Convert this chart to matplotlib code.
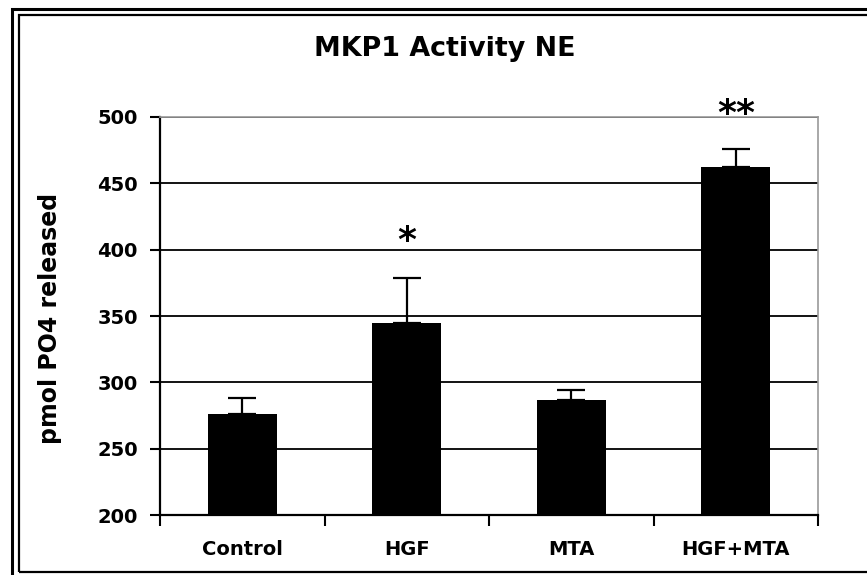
import matplotlib.pyplot as plt
from matplotlib.patches import Rectangle

groups = ["Control", "HGF", "MTA", "HGF+MTA"]
means = [276, 345, 287, 462]
errors = [12, 34, 7, 14]
stars = ["", "*", "", "**"]
star_y = [None, 399, None, 495]

plt.rcParams["font.family"] = "DejaVu Sans"
plt.rcParams["font.weight"] = "bold"

fig = plt.figure(figsize=(8.67, 5.75), dpi=100)
W, H = 867, 575
ax = fig.add_axes([160 / W, 1 - 515 / H, (818 - 160) / W, (515 - 117) / H])

x = list(range(len(groups)))
ax.bar(x, means, width=0.42, color="black", zorder=3)
ax.errorbar(x, means, yerr=[[0] * len(x), errors], fmt="none", ecolor="black",
            elinewidth=1.6, capsize=10, capthick=1.6, zorder=4)

# significance marks
for i, s in enumerate(stars):
    if s:
        ax.text(i, star_y[i], s, ha="center", va="baseline", fontsize=26,
                fontweight="bold", zorder=5)

ax.set_xlim(-0.5, 3.5)
ax.set_ylim(200, 500)
ax.set_yticks([200, 250, 300, 350, 400, 450, 500])
ax.yaxis.grid(True, color="black", linewidth=1.3, zorder=0)
ax.set_axisbelow(True)

ax.set_xticks(x)
ax.set_xticklabels(groups, fontsize=14, fontweight="bold")
ax.set_xticks([-0.5, 0.5, 1.5, 2.5, 3.5], minor=True)
ax.tick_params(axis="x", which="major", length=0, pad=18)
ax.tick_params(axis="x", which="minor", length=8, width=1.5, direction="out")
ax.tick_params(axis="y", length=7, width=1.5, pad=9, labelsize=14)
for lab in ax.get_yticklabels():
    lab.set_fontweight("bold")

for side in ["left", "bottom"]:
    ax.spines[side].set_color("black")
    ax.spines[side].set_linewidth(1.6)
for side in ["top", "right"]:
    ax.spines[side].set_color("#999999")
    ax.spines[side].set_linewidth(1.2)

ax.set_ylabel("pmol PO4 released", fontsize=17, fontweight="bold")
ax.yaxis.set_label_coords(-0.149, 0.495)

fig.text(445 / W, 1 - 49 / H, "MKP1 Activity NE", ha="center", va="center",
         fontsize=19.4, fontweight="bold")

# double frame around the chart
fig.patches.append(Rectangle((12 / W, -0.1), 1.2, 1 - 8.5 / H + 0.1, transform=fig.transFigure,
                             fill=False, edgecolor="black", linewidth=2.2))
fig.patches.append(Rectangle((18.5 / W, 1 - 571.5 / H), 1.2, (571.5 - 15.3) / H,
                             transform=fig.transFigure, fill=False, edgecolor="black",
                             linewidth=1.6))

fig.savefig("out.png", dpi=100)
